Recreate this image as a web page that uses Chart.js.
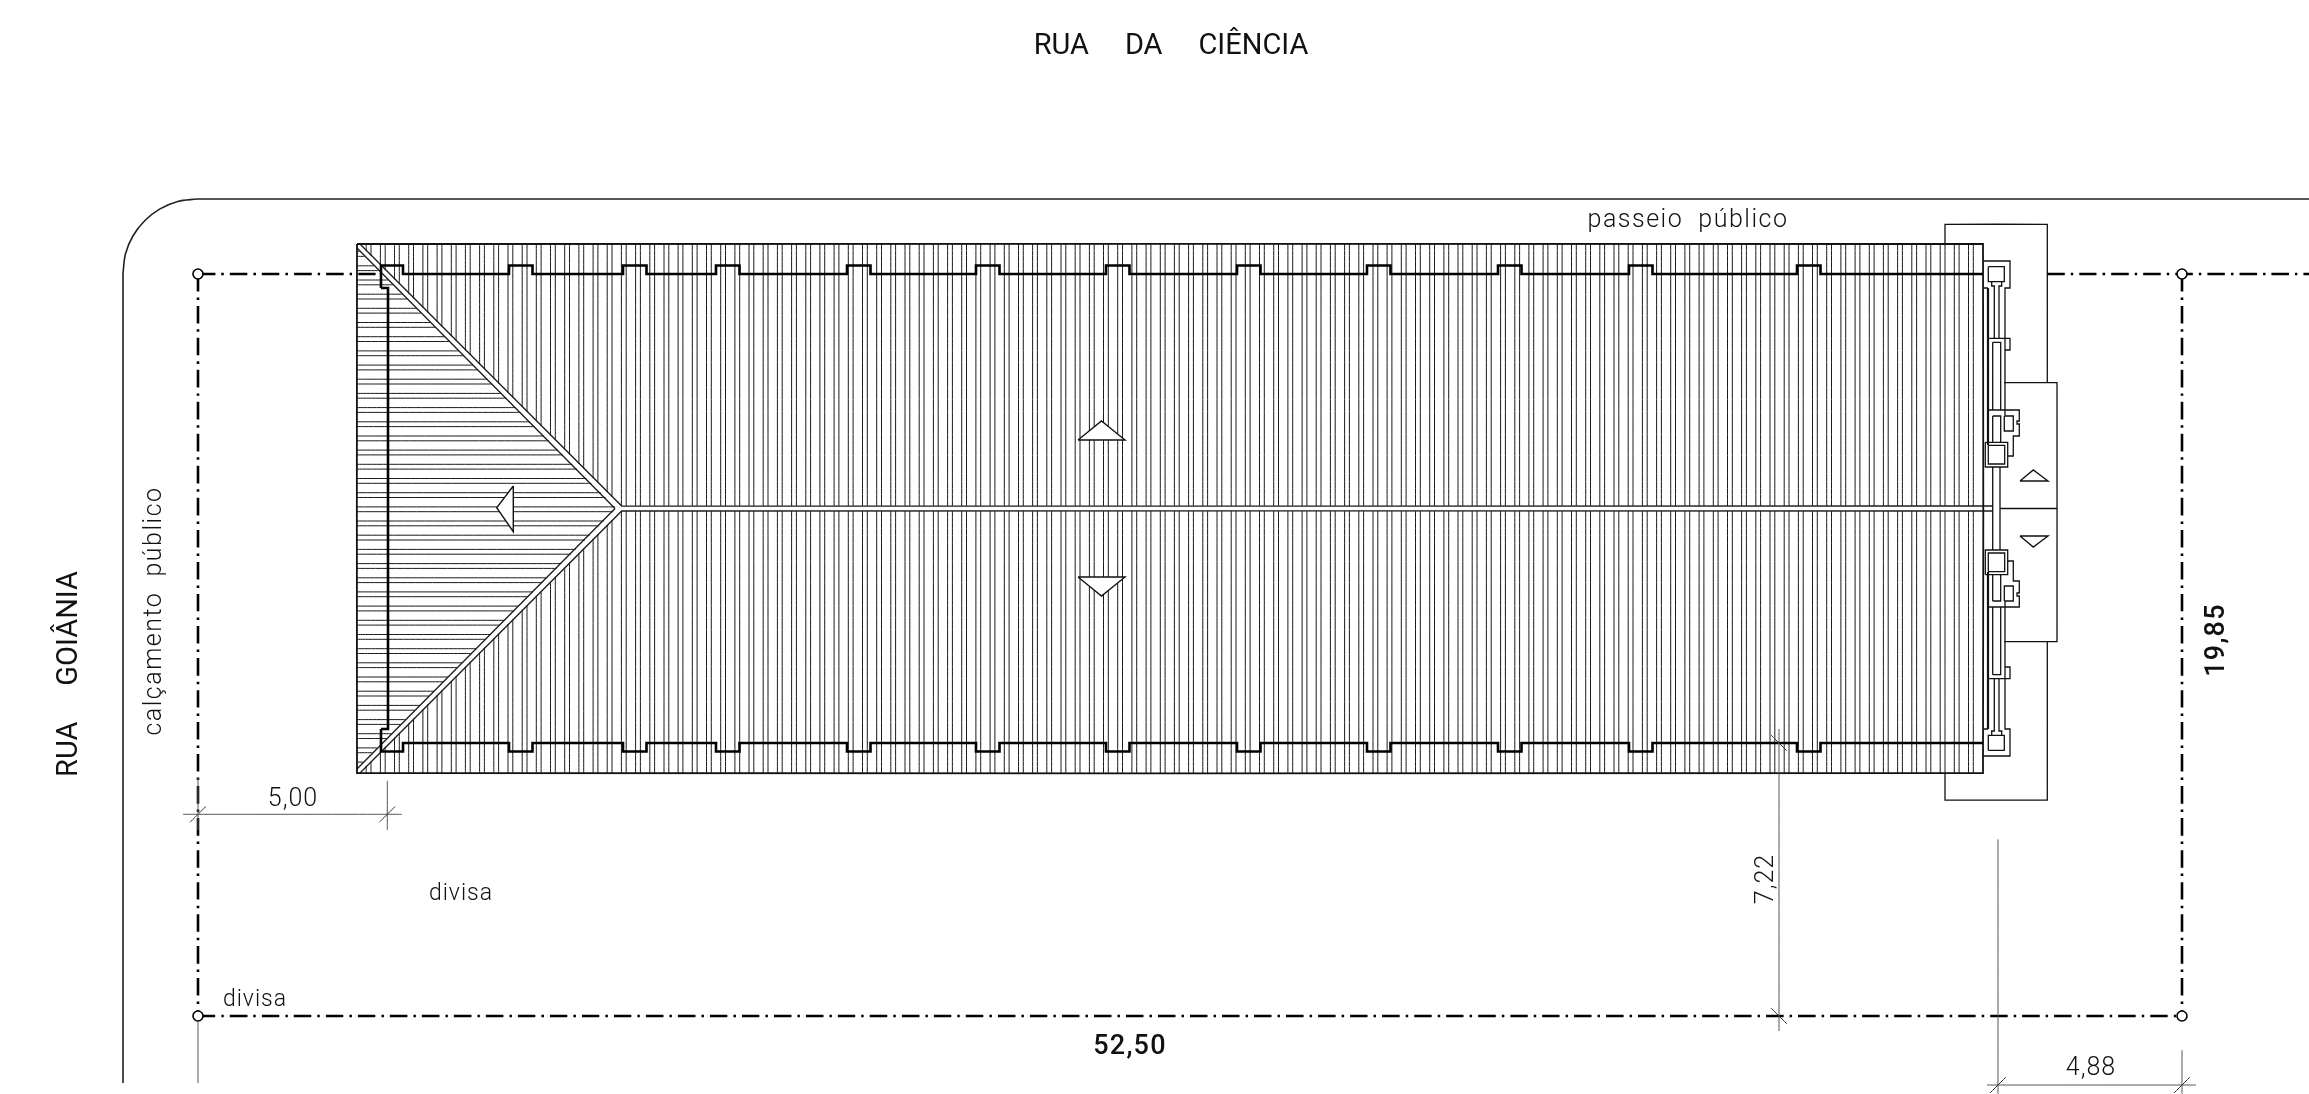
<!DOCTYPE html>
<html>
<head>
<meta charset="utf-8">
<title>Planta de cobertura</title>
<script src="https://cdn.jsdelivr.net/npm/chart.js@4"></script>
<style>
  html, body { margin: 0; padding: 0; background: #fff; }
  canvas { display: block; }
</style>
</head>
<body>
<canvas id="plan" width="2309" height="1094"></canvas>
<script>

// roof ribs, left line of each rib
const ribX = [
  366.2,380.4,394.5,408.7,422.9,437.1,451.3,465.4,479.6,493.8,508.0,522.2,536.3,550.5,564.7,578.9,593.1,607.2,621.4,635.6,
  649.8,664.0,678.1,692.3,706.5,720.7,734.9,749.0,763.2,777.4,791.6,805.8,819.9,834.1,848.3,862.5,876.7,890.8,905.0,919.2,
  933.4,947.6,961.7,975.9,990.1,1004.3,1018.5,1032.6,1046.8,1061.0,1075.2,1089.4,1103.5,1117.7,1131.9,1146.1,1160.3,1174.4,1188.6,1202.8,
  1217.0,1231.2,1245.3,1259.5,1273.7,1287.9,1302.1,1316.2,1330.4,1344.6,1358.8,1373.0,1387.1,1401.3,1415.5,1429.7,1443.9,1458.0,1472.2,1486.4,
  1500.6,1514.8,1528.9,1543.1,1557.3,1571.5,1585.7,1599.8,1614.0,1628.2,1642.4,1656.6,1670.7,1684.9,1699.1,1713.3,1727.5,1741.6,1755.8,1770.0,
  1784.2,1798.4,1812.5,1826.7,1840.9,1855.1,1869.3,1883.4,1897.6,1911.8,1926.0,1940.2,1954.3,1968.5
];
// hip side ribs, upper line of each rib
const ribY = [
  251.6,265.8,280.0,294.2,308.3,322.5,336.7,350.9,365.1,379.2,393.4,407.6,421.8,436.0,450.1,464.3,478.5,492.7,506.9,
  521.0,535.2,549.4,563.6,577.8,591.9,606.1,620.3,634.5,648.7,662.8,677.0,691.2,705.4,719.6,733.7,747.9,762.1
];
const ribWidth = 4.8;

// eave outline: left end of each bump on the upper eave
const eaveBumps = [509,623,716,847,976,1106,1237,1367,1498,1629,1797];
const eaveBumpWidth = 23.5;

const roofOutline = [[357,244],[1983,244],[1983,773],[357,773],[357,244]];
const hipOuter = [[360,244],[621.7,506],[1992.7,506]];
const hipInner = [[357,248],[615,508.5]];
const axisY = 508.5; // the roof is symmetric about the ridge

const streetBendX = [123,125.5,132.9,144.7,160,177.8,197];
const streetBendY = [273,253.8,236,220.7,208.9,201.5,199];

const lotCornerX = [198,198,2182,2182];
const lotCornerY = [274,1016,274,1016];

const porchTop = [[1945,244],[1945,224.3],[2047.3,224.3],[2047.3,382.7]];
const porchBottom = [[1945,773],[1945,800],[2047.3,800],[2047.3,641.7]];
const porchFront = [[2004,382.7],[2057,382.7],[2057,641.7],[2004,641.7]];
const porchSplit = [[2000,508.5],[2057,508.5]];

const capOuter = [[1983,261],[2010,261],[2010,288],[2005,288],[2005,416]];
const capLeft = [[1983,288],[1988,288]];
const capInner = [[1988.3,266.7],[2004.3,281.7]];
const stemLeft = [[1991.7,281.7],[1991.7,286],[1994.3,286],[1994.3,338]];
const stemRight = [[2001.7,281.7],[2001.7,286],[1999,286],[1999,338]];
const block2 = [[1988,338.3],[2010,338.3],[2010,350],[2004.3,350]];
const block2Inner = [[1992.7,342.3],[2000.7,410]];
const block3 = [[1988,410],[2019.3,410],[2019.3,421],[2017,421],[2017,424],[2019.3,424],[2019.3,436],[2013.3,436],[2013.3,456],[2007.7,456]];
const block3InnerA = [[1992.7,416],[2000.7,442.3]];
const block3InnerB = [[2004.3,416],[2013.3,431]];
const columnOuter = [[1985.3,442.3],[2007.7,467]];
const columnInner = [[1988.3,445.3],[2004.7,464]];
const wallThick = [[1988,288],[1988,445]];
const spineLeft = [[1992.7,467],[1992.7,550]];
const spineRight = [[2000,467],[2000,550]];

// slope arrows
const arrowUp = [[1078,440],[1101.5,421],[1125,440],[1078,440]];
const arrowDown = [[1078,577],[1101.5,596],[1125,577],[1078,577]];
const arrowLeft = [[513.3,486],[496.7,507.7],[513.3,531.7],[513.3,486]];
const arrowSmallUp = [[2020,481],[2033.3,470],[2048,481],[2020,481]];
const arrowSmallDown = [[2020,536],[2033.3,547],[2048,536],[2020,536]];

// dimension lines
const dimLines = [
  [[183,814.3],[401.7,814.3]], [[387.3,780.7],[387.3,830]], [[198,778],[198,830]],
  [[1779,729],[1779,1031]],
  [[1998,839.4],[1998,1094]], [[2182,1050],[2182,1094]], [[1987,1085],[2196,1085]],
  [[198,1016],[198,1083]]
];
const dimTicksForward = [[198,814.3],[387.3,814.3],[1998,1085],[2182,1085]];
const dimTicksBack = [[1779,743],[1779,1016]];

// texts
const labelText = ['RUA     DA     CIÊNCIA','passeio  público','calçamento  público','RUA     GOIÂNIA','19,85','52,50','7,22','4,88','5,00','divisa','divisa'];
const labelX = [1171,1688,154.5,70,2217,1130,1766.5,2091,293,461,255];
const labelY = [47,221,611,674,640,1047,879,1069,800,894,1000];
const labelAngle = [0,0,-90,-90,-90,0,-90,0,0,0,0];
const labelSize = [29,25,25,29,27,27,25,25,25,23,23];
const labelWeight = [400,300,300,400,500,500,300,300,300,300,300];
const labelSpacing = [0,1.5,1.5,0,1.2,1.2,1,1,1,1,1];

const gap = { x: NaN, y: NaN };
const flip = p => [p[0], 2 * axisY - p[1]];
const rect = ([a, b]) => [[a[0],a[1]],[b[0],a[1]],[b[0],b[1]],[a[0],b[1]],[a[0],a[1]]];

function joinPaths(paths) {
  const out = [];
  paths.forEach(path => {
    path.forEach(p => out.push({ x: p[0], y: p[1] }));
    out.push(gap);
  });
  return out;
}

// the tiny tension keeps Chart.js off its fast path, which retraces vertical runs and darkens them
function lineSet(paths, color, width, extra) {
  return Object.assign({
    data: joinPaths(paths),
    showLine: true,
    borderColor: color,
    borderWidth: width,
    pointRadius: 0,
    tension: 0.001,
    fill: false,
    borderCapStyle: 'butt',
    borderJoinStyle: 'miter'
  }, extra || {});
}

// vertical ribs stop at the hip and the ridge, horizontal ribs stop at the hip
function verticalRibs() {
  const paths = [];
  ribX.forEach(rx => {
    [rx, rx + ribWidth].forEach(x => {
      const end = Math.min(506, x - 115);
      paths.push([[x, 244], [x, end]]);
      paths.push([[x, 2 * axisY - 244], [x, 2 * axisY - end]]);
    });
  });
  return paths;
}

function horizontalRibs() {
  const paths = [];
  ribY.forEach(ry => {
    [ry, ry + ribWidth].forEach(y => {
      const reach = y < axisY ? y + 108 : 2 * axisY - y + 108;
      paths.push([[357, y], [reach, y]]);
    });
  });
  return paths;
}

function eavePath() {
  const path = [[381, 288], [381, 265.5], [403, 265.5], [403, 274]];
  eaveBumps.forEach(x => {
    path.push([x, 274], [x, 265.5], [x + eaveBumpWidth, 265.5], [x + eaveBumpWidth, 274]);
  });
  path.push([1983, 274]);
  return path;
}

const eave = eavePath();
const leftWall = [[381, 288], [388, 288], [388, 729], [381, 729]];

const thinUpper = [
  capOuter, capLeft, rect(capInner), stemLeft, stemRight, block2, rect(block2Inner),
  block3, rect(block3InnerA), rect(block3InnerB), rect(columnOuter), rect(columnInner)
];

function tickPaths(points, dir) {
  return points.map(p => [[p[0] - 8, p[1] + 8 * dir], [p[0] + 8, p[1] - 8 * dir]]);
}

function triangle(points) {
  return lineSet([points], '#111', 1.4, { data: points.map(p => ({ x: p[0], y: p[1] })), fill: 'shape', backgroundColor: '#fff' });
}

// bottom layer first, reversed below because Chart.js paints the first dataset last
const layers = [
  lineSet(verticalRibs(), '#1a1a1a', 1),
  lineSet(horizontalRibs(), '#1a1a1a', 1),
  lineSet([hipOuter, hipOuter.map(flip), hipInner, hipInner.map(flip)], '#1a1a1a', 1.3),
  lineSet([roofOutline], '#111', 1.8),
  lineSet([porchTop, porchBottom, porchFront, porchSplit], '#111', 1.3),
  lineSet(thinUpper.concat(thinUpper.map(p => p.map(flip))).concat([spineLeft, spineRight]), '#111', 1.3),
  lineSet([wallThick, wallThick.map(flip)], '#111', 2.2),
  lineSet([eave, eave.map(flip), leftWall], '#000', 2.6),
  lineSet([
    [[198,274],[381,274]], [[198,274],[198,1016]], [[198,1016],[2182,1016]],
    [[2182,274],[2182,1016]], [[2047.3,274],[2309,274]]
  ], '#000', 2.6, { borderDash: [17.5, 6, 2.5, 6] }),
  lineSet(dimLines, '#555', 1),
  lineSet(tickPaths(dimTicksForward, 1).concat(tickPaths(dimTicksBack, -1)), '#333', 1),
  { data: streetBendX.map((x, i) => ({ x, y: streetBendY[i] })), showLine: true, borderColor: '#222', borderWidth: 1.6, pointRadius: 0, tension: 0.35 },
  lineSet([[[123,273],[123,1083]], [[197,199],[2309,199]]], '#222', 1.6),
  triangle(arrowUp), triangle(arrowDown), triangle(arrowLeft), triangle(arrowSmallUp), triangle(arrowSmallDown),
  {
    data: lotCornerX.map((x, i) => ({ x, y: lotCornerY[i] })),
    showLine: false, pointRadius: 5, pointBackgroundColor: '#fff', pointBorderColor: '#000', pointBorderWidth: 1.6
  }
].reverse();

const planLabels = {
  id: 'planLabels',
  afterDatasetsDraw(chart) {
    const { ctx, scales } = chart;
    ctx.save();
    ctx.fillStyle = '#111';
    ctx.textAlign = 'center';
    ctx.textBaseline = 'middle';
    labelText.forEach((t, i) => {
      ctx.save();
      ctx.translate(scales.x.getPixelForValue(labelX[i]), scales.y.getPixelForValue(labelY[i]));
      ctx.rotate(labelAngle[i] * Math.PI / 180);
      ctx.font = labelWeight[i] + ' ' + labelSize[i] + 'px Roboto';
      ctx.letterSpacing = labelSpacing[i] + 'px';
      ctx.fillText(t, 0, 0);
      ctx.restore();
    });
    ctx.restore();
  }
};

new Chart(document.getElementById('plan'), {
  type: 'scatter',
  data: { datasets: layers },
  options: {
    responsive: false,
    animation: false,
    devicePixelRatio: 1,
    events: [],
    layout: { padding: 0, autoPadding: false },
    plugins: { legend: { display: false }, tooltip: { enabled: false } },
    scales: {
      x: { type: 'linear', min: 0, max: 2309, display: false },
      y: { type: 'linear', min: 0, max: 1094, reverse: true, display: false }
    }
  },
  plugins: [planLabels]
});
</script>
</body>
</html>
